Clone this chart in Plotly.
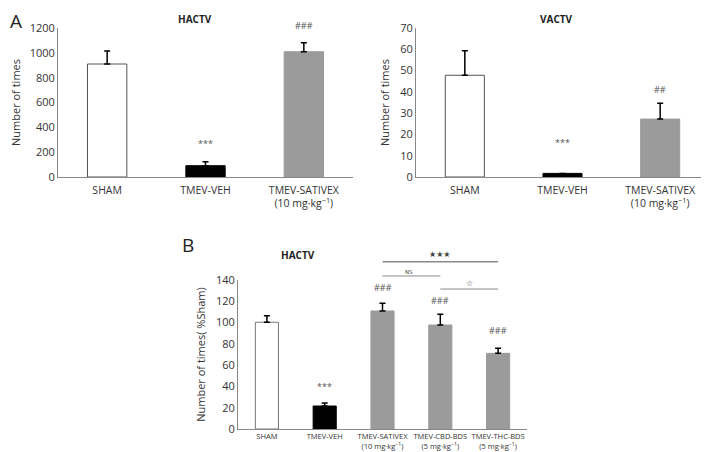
import plotly.graph_objects as go

# ---- data ----
cats_a = ["SHAM", "TMEV-VEH", "TMEV-SATIVEX<br>(10 mg·kg<sup>−1</sup>)"]
hactv_a = [910, 91, 1009]
hactv_a_err = [105, 32, 73]
vactv_a = [47.8, 1.7, 27.2]
vactv_a_err = [11.5, 0, 7.4]

cats_b = ["SHAM", "TMEV-VEH", "TMEV-SATIVEX<br>(10 mg·kg<sup>−1</sup>)",
          "TMEV-CBD-BDS<br>(5 mg·kg<sup>−1</sup>)", "TMEV-THC-BDS<br>(5 mg·kg<sup>−1</sup>)"]
hactv_b = [100.3, 21.6, 110.9, 97.7, 71.1]
hactv_b_err = [6.2, 2.8, 7.2, 10.1, 4.7]

sig_a_left = ["", "***", "###"]
sig_a_left_y = [None, 266, 1224]
sig_a_right = ["", "***", "##"]
sig_a_right_y = [None, 16, 41.3]
sig_b = ["", "***", "###", "###", "###"]
sig_b_y = [None, 40.4, 132.5, 121.2, 93]

colors_a = ["white", "black", "#9b9b9b"]
colors_b = ["white", "black", "#9b9b9b", "#9b9b9b", "#9b9b9b"]
lines_a = ["#555555", "black", "#9b9b9b"]
lines_b = ["#777777", "black", "#9b9b9b", "#9b9b9b", "#9b9b9b"]

# page has an 8px body margin; size the figure to fill the rest of the window
OFF = 8
W, H = 709 - OFF, 452 - OFF
def px(x): return (x - OFF) / W
def py(y): return 1 - (y - OFF) / H

FONT = "Open Sans"
TXT = "#333333"

DOM_A_Y = [py(177), py(28)]
DOM_B_Y = [py(429), py(280)]
RANGE_A1, RANGE_A2, RANGE_B = 1200, 70, 140

def to_paper(v, dom, rmax):
    return dom[0] + v / rmax * (dom[1] - dom[0])

fig = go.Figure()

def add_bars(cats, vals, errs, colors, lcolors, xa, ya, width):
    fig.add_trace(go.Bar(
        x=cats, y=vals, xaxis=xa, yaxis=ya, width=width,
        marker=dict(color=colors, line=dict(color=lcolors, width=1)),
        error_y=dict(type="data", array=errs, arrayminus=[0]*len(errs), symmetric=False,
                     color="black", thickness=1.5, width=3),
        showlegend=False, cliponaxis=False))

add_bars(cats_a, hactv_a, hactv_a_err, colors_a, lines_a, "x", "y", 0.4)
add_bars(cats_a, vactv_a, vactv_a_err, colors_a, lines_a, "x2", "y2", 0.4)
add_bars(cats_b, hactv_b, hactv_b_err, colors_b, lines_b, "x3", "y3", 0.4)

axis_common = dict(showline=True, linecolor="#888888", linewidth=1, showgrid=False,
                   zeroline=False, ticks="", automargin=False,
                   tickfont=dict(family=FONT, size=11, color=TXT))
xtick_font = dict(family=FONT, size=10.5, color=TXT)
ytitle_font = dict(family=FONT, size=11, color=TXT)

fig.update_layout(
    width=W, height=H, margin=dict(l=0, r=0, t=0, b=0),
    plot_bgcolor="white", paper_bgcolor="white",
    font=dict(family=FONT, color=TXT),
    xaxis=dict(domain=[px(58), px(353)], anchor="y", type="category",
               **{**axis_common, "tickfont": xtick_font}, ticklabelstandoff=3),
    yaxis=dict(domain=DOM_A_Y, anchor="x", range=[0, RANGE_A1], dtick=200,
               title=dict(text="Number of times", font=ytitle_font, standoff=8),
               **axis_common),
    xaxis2=dict(domain=[px(416), px(709)], anchor="y2", type="category",
                **{**axis_common, "tickfont": xtick_font}, ticklabelstandoff=3),
    yaxis2=dict(domain=DOM_A_Y, anchor="x2", range=[0, RANGE_A2], dtick=10,
                title=dict(text="Number of times", font=ytitle_font, standoff=8),
                **axis_common),
    xaxis3=dict(domain=[px(238), px(527)], anchor="y3", type="category",
                **{**axis_common, "tickfont": dict(family=FONT, size=7.5, color=TXT)},
                ticklabelstandoff=0),
    yaxis3=dict(domain=DOM_B_Y, anchor="x3", range=[0, RANGE_B], dtick=20,
                title=dict(text="Number of times( %Sham)", font=ytitle_font, standoff=8),
                **axis_common),
)

ann = []
def text_ann(x, y, t, xr, size, family=FONT, color="#555555", xanchor="center"):
    ann.append(dict(x=x, y=y, xref=xr, yref="paper", text=t, showarrow=False,
                    xanchor=xanchor, yanchor="middle",
                    font=dict(family=family, size=size, color=color)))

def sig(cats, labels, ys, dom, rmax, xr, size):
    for c, t, y in zip(cats, labels, ys):
        if t:
            text_ann(c, to_paper(y, dom, rmax), t, xr, size)

sig(cats_a, sig_a_left, sig_a_left_y, DOM_A_Y, RANGE_A1, "x", 9)
sig(cats_a, sig_a_right, sig_a_right_y, DOM_A_Y, RANGE_A2, "x2", 9)
sig(cats_b, sig_b, sig_b_y, DOM_B_Y, RANGE_B, "x3", 9)

# titles & panel letters
text_ann(px(195), py(19), "<b>HACTV</b>", "paper", 10, color="#222222")
text_ann(px(556), py(19), "<b>VACTV</b>", "paper", 10, color="#222222")
text_ann(px(298), py(255), "<b>HACTV</b>", "paper", 10, color="#222222")
text_ann(px(8), py(21), "A", "paper", 19, color="#222222", xanchor="left")
text_ann(px(188), py(245), "B", "paper", 19, color="#222222")

# comparison brackets in panel B (category indices 2,3,4)
brackets = [(2, 4, 157.2, "★★★", 3, 163.5, 8, 1.5),
            (2, 3, 143.8, "NS", 2.45, 147.8, 5.5, 1),
            (3, 4, 131.5, "☆", 3.5, 137, 8, 1)]
shapes = []
for x0, x1, y, t, tx, ty, fs, lw in brackets:
    yp = to_paper(y, DOM_B_Y, RANGE_B)
    shapes.append(dict(type="line", xref="x3", yref="paper", x0=x0, x1=x1, y0=yp, y1=yp,
                       line=dict(color="#8a8a8a", width=lw)))
    text_ann(tx, to_paper(ty, DOM_B_Y, RANGE_B), t, "x3", fs, family="DejaVu Sans",
             color="#444444")

fig.update_layout(annotations=ann, shapes=shapes)
fig.write_html("out.html")
